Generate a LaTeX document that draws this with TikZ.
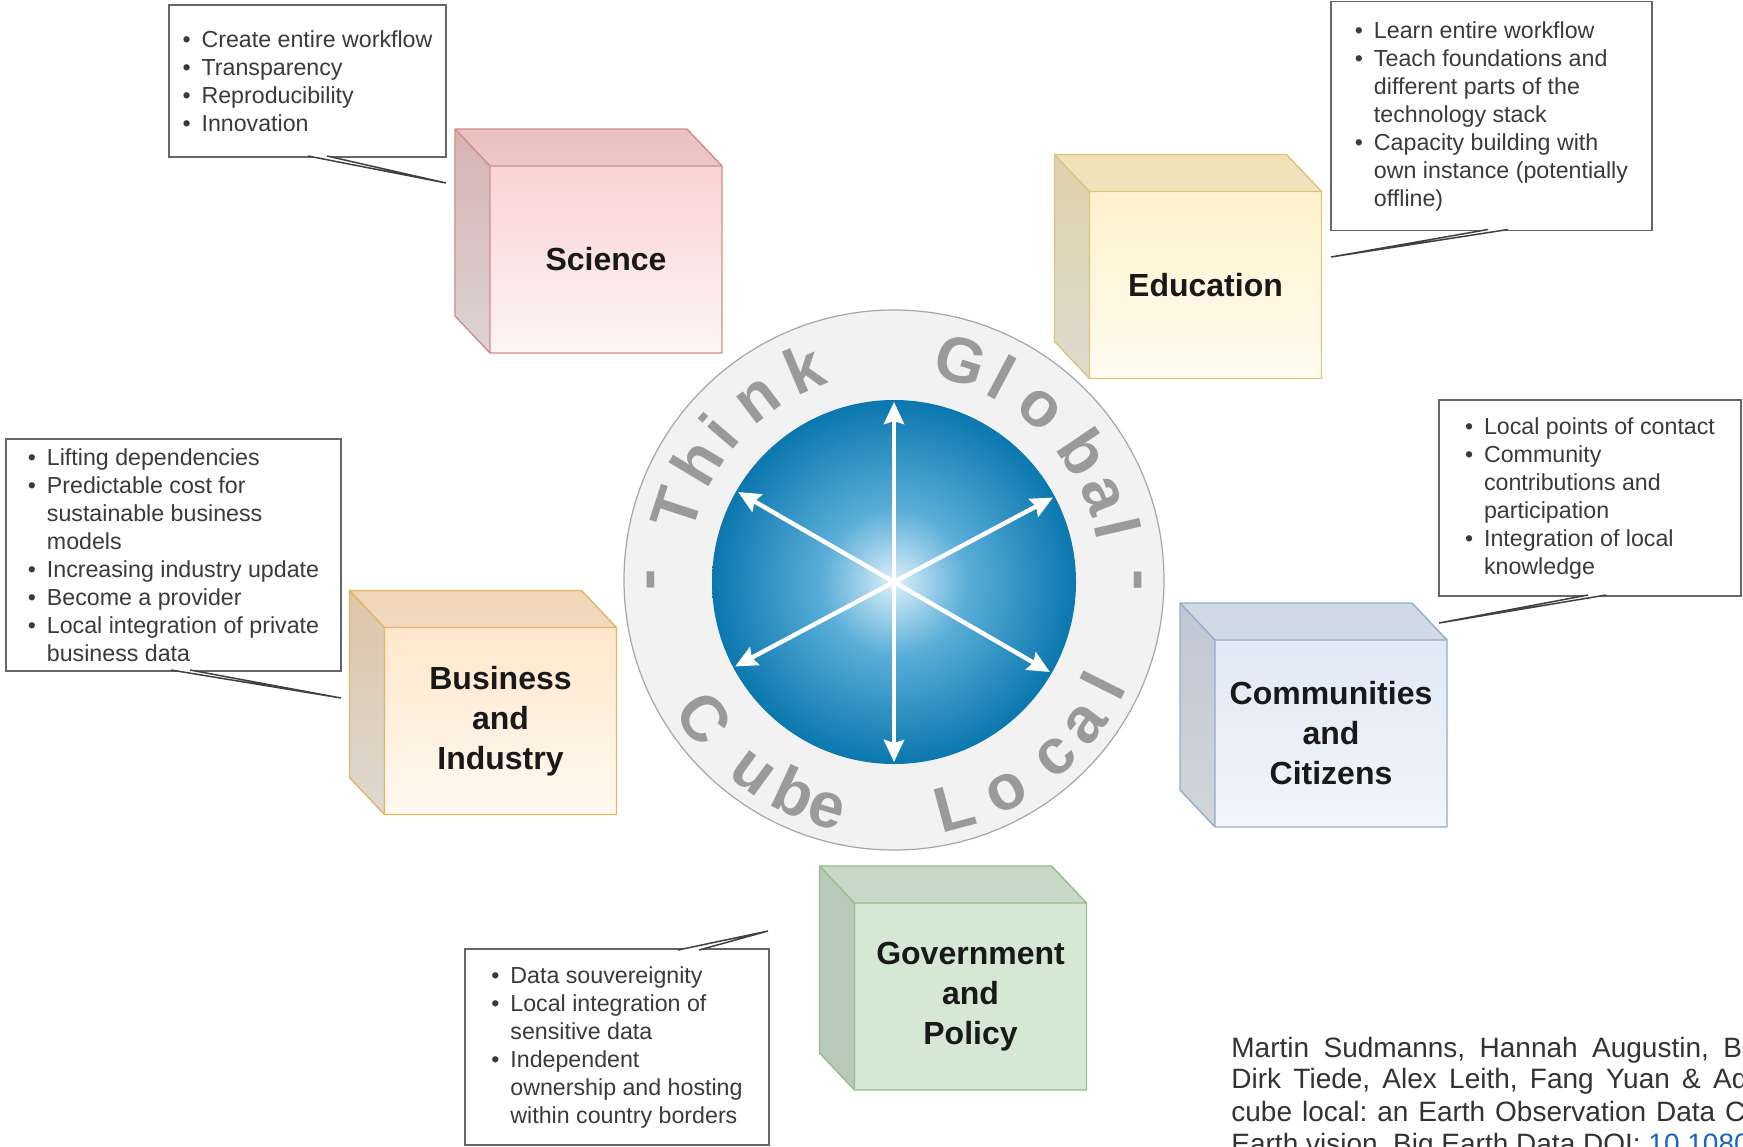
\documentclass[tikz,border=0pt]{standalone}
\usepackage{fontspec}
\setmainfont{Liberation Sans}
\usetikzlibrary{calc}
\usetikzlibrary{arrows.meta}
\usetikzlibrary{backgrounds}

\definecolor{sciFace}{HTML}{F8CECC}
\definecolor{sciLow}{HTML}{FDF4F4}
\definecolor{sciLine}{HTML}{CF8E8B}
\definecolor{eduFace}{HTML}{FFF0C4}
\definecolor{eduLow}{HTML}{FFFBF0}
\definecolor{eduLine}{HTML}{DCC47E}
\definecolor{busFace}{HTML}{FFE3C4}
\definecolor{busLow}{HTML}{FFF9F1}
\definecolor{busLine}{HTML}{E2B662}
\definecolor{comFace}{HTML}{DCE6F5}
\definecolor{comLow}{HTML}{F2F5FA}
\definecolor{comLine}{HTML}{97ABCB}
\definecolor{govFace}{HTML}{D5E8D4}
\definecolor{govLow}{HTML}{D5E8D4}
\definecolor{govLine}{HTML}{98BC8A}
\definecolor{ringFill}{HTML}{F2F2F2}
\definecolor{ringEdge}{HTML}{A6A6A6}
\definecolor{ringGrey}{HTML}{9A9A9A}
\definecolor{ballIn}{HTML}{DCEFF9}
\definecolor{ballMid}{HTML}{5AAED8}
\definecolor{ballOut}{HTML}{0A77AE}
\definecolor{noteText}{HTML}{3A3A3A}
\definecolor{citeText}{HTML}{333333}
\definecolor{doiBlue}{HTML}{1A63C6}

\pgfdeclareradialshading{ball}{\pgfpoint{0bp}{0bp}}{color(0bp)=(ballIn); color(10bp)=(ballMid); color(25bp)=(ballOut); color(50bp)=(ballOut)}

\newcommand{\bl}{\makebox[9.5pt][l]{\textbullet}}
\newcommand{\ind}{\hspace*{9.5pt}}

\tikzset{
 note/.style={draw=black!60, line width=.7pt, fill=white, text=noteText, align=left, inner sep=0pt, outer sep=0pt, font=\fontsize{11.6}{14}\selectfont},
 cubeface/.style={inner sep=0pt, outer sep=0pt, minimum width=116pt, minimum height=93.5pt, align=center, text=black!90, font=\fontsize{16}{20}\selectfont\bfseries},
 pointer/.style={draw=black!75, fill=white, line width=.75pt},
 ringtext/.style={text=ringGrey, font=\fontsize{32}{32}\selectfont\bfseries, inner sep=0pt, anchor=base},
 spoke/.style={white, line width=2.2pt, <->, >={Stealth[length=11pt,width=10pt,inset=1.5pt]}},
 cite/.style={text=citeText, font=\fontsize{14}{16.5}\selectfont\frenchspacing, inner sep=0pt, anchor=base west}
}

\begin{document}
\begin{tikzpicture}[x=0.5pt, y=-0.5pt]
\useasboundingbox (0,0) rectangle (1743,1146);
\clip (0,0) rectangle (1743,1146);

\node[cubeface] (sci) at (606,259.5) {Science};
\node[cubeface] (edu) at (1205.5,285) {Education};
\node[cubeface] (bus) at (500.5,721) {Business\\and\\Industry};
\node[cubeface] (com) at (1331,733.5) {Communities\\and\\Citizens};
\node[cubeface] (gov) at (970.5,996.5) {Government\\and\\Policy};

\begin{scope}[on background layer]
\fill[white] (0,0) rectangle (1743,1146);
\foreach \c in {sci,edu,bus,com,gov} {
 \coordinate (A) at ($(\c.north west)+(-35,-37)$);
 \coordinate (B) at ($(\c.north east)+(-35,-37)$);
 \coordinate (C) at ($(\c.south west)+(-35,-37)$);
 \shade[top color=\c Face, bottom color=\c Low] (A) -- (B) -- (\c.north east) -- (\c.south east) -- (\c.south west) -- (C) -- cycle;
 \fill[black, opacity=.06] (A) -- (B) -- (\c.north east) -- (\c.north west) -- cycle;
 \fill[black, opacity=.13] (A) -- (\c.north west) -- (\c.south west) -- (C) -- cycle;
 \draw[\c Line, line width=.7pt, line join=round] (A) -- (B) -- (\c.north east) -- (\c.south east) -- (\c.south west) -- (C) -- cycle
   (A) -- (\c.north west) -- (\c.north east) (\c.north west) -- (\c.south west);
}
\end{scope}

\begin{scope}[shift={(894,580)}, y=0.5pt]
\draw[draw=ringEdge, fill=ringFill, line width=.6pt] (0,0) circle (270);
\shade[shading=ball] (0,-2) circle (182);
\foreach \a in {90,28,150}
 \draw[spoke] ($(0,-2)+(\a:180)$) -- ($(0,-2)+(\a+180:180)$);
\foreach \ch/\a [count=\i] in {T/162,h/149,i/139.5,n/127,k/113,G/73,l/62,o/49.5,b/34,a/22,l/13}
 \node[ringtext, rotate=\a-90] (think\i) at (\a:207) {\ch};
\foreach \ch/\a [count=\i] in {C/216,u/233.7,b/245,e/253.7,L/285,o/298,c/312.5,a/323,l/333.4}
 \node[ringtext, rotate=\a+90] (local\i) at (\a:257) {\ch};
\node[ringtext, rotate=90] (dashL) at (180:227) {-};
\node[ringtext, rotate=-90] (dashR) at (0:227) {-};
\end{scope}

\node[note, minimum width=138.5pt, minimum height=76pt] (sciNote) at (307.5,81)
 {\bl Create entire workflow\\ \bl Transparency\\ \bl Reproducibility\\ \bl Innovation};
\node[note, minimum width=160.5pt, minimum height=114.5pt] (eduNote) at (1491.5,116)
 {\bl Learn entire workflow\\ \bl Teach foundations and\\ \ind different parts of the\\ \ind technology stack\\
  \bl Capacity building with\\ \ind own instance (potentially\\ \ind offline)};
\node[note, minimum width=167.5pt, minimum height=116pt] (busNote) at (173.5,555)
 {\bl Lifting dependencies\\ \bl Predictable cost for\\ \ind sustainable business\\ \ind models\\
  \bl Increasing industry update\\ \bl Become a provider\\ \bl Local integration of private\\ \ind business data};
\node[note, minimum width=151pt, minimum height=98pt] (comNote) at (1590,498)
 {\bl Local points of contact\\ \bl Community\\ \ind contributions and\\ \ind participation\\
  \bl Integration of local\\ \ind knowledge};
\node[note, minimum width=152pt, minimum height=98pt] (govNote) at (617,1047)
 {\bl Data souvereignity\\ \bl Local integration of\\ \ind sensitive data\\ \bl Independent\\
  \ind ownership and hosting\\ \ind within country borders};

\coordinate (sciTip) at (446,183);
\coordinate (eduTip) at (1331,257);
\coordinate (busTip) at (341,698);
\coordinate (comTip) at (1439,623);
\coordinate (govTip) at (768,931);
\draw[pointer] ($(sciNote.south west)+(139,-1)$) -- (sciTip) -- ($(sciNote.south west)+(158,-1)$);
\draw[pointer] ($(eduNote.south west)+(157,-1)$) -- (eduTip) -- ($(eduNote.south west)+(177,-1)$);
\draw[pointer] ($(busNote.south west)+(165,-1)$) -- (busTip) -- ($(busNote.south west)+(184,-1)$);
\draw[pointer] ($(comNote.south west)+(149,-1)$) -- (comTip) -- ($(comNote.south west)+(167,-1)$);
\draw[pointer] ($(govNote.north west)+(213,1)$) -- (govTip) -- ($(govNote.north west)+(234,1)$);

\node[cite] (cite1) at (1231,1057) {\makebox[260pt][s]{Martin Sudmanns, Hannah Augustin, Br}};
\node[cite] (cite2) at (1231,1088) {\makebox[258pt][s]{Dirk Tiede, Alex Leith, Fang Yuan \& Ad}};
\node[cite] (cite3) at (1231,1121) {\makebox[257pt][s]{cube local: an Earth Observation Data C}};
\node[cite] (cite4) at (1231,1153) {Earth vision. Big Earth Data DOI: \textcolor{doiBlue}{10.1080}};
\end{tikzpicture}
\end{document}
